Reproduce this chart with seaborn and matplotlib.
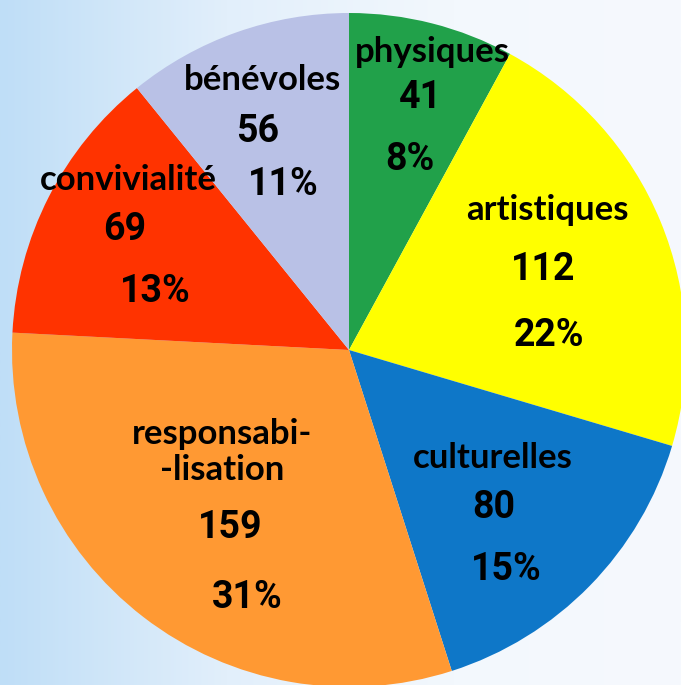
import numpy as np
import seaborn as sns
import matplotlib.pyplot as plt
from matplotlib.colors import LinearSegmentedColormap

# slice data, clockwise from the top
categories = ['physiques', 'artistiques', 'culturelles', 'responsabi-\n-lisation', 'convivialité', 'bénévoles']
counts = [41, 112, 80, 159, 69, 56]
colors = ['#21a14a', '#ffff00', '#0e77c8', '#ff9933', '#ff3300', '#b9c1e6']

# label positions in pixels (name, count, percent) - layout only
name_pos = [(432, 52), (547, 210), (493, 458), (222, 452), (128, 180), (262, 80)]
count_pos = [(420, 98), (543, 270), (494, 508), (230, 527), (125, 230), (258, 132)]
pct_pos = [(410, 160), (549, 336), (506, 570), (247, 598), (155, 292), (283, 184)]

W, H = 681, 685
sns.set_theme(style='white')
fig = plt.figure(figsize=(W / 100, H / 100), dpi=100)

# background gradient
bg = fig.add_axes([0, 0, 1, 1])
cmap = LinearSegmentedColormap.from_list('bg', ['#bfdef7', '#e2effb', '#f3f8fd', '#f6f9fe'])
grad = np.linspace(0, 1, 256).reshape(1, -1)
bg.imshow(grad, aspect='auto', cmap=cmap, extent=[0, 1, 0, 1])
bg.axis('off')

cx, cy, r = 349, 350, 337
ax = fig.add_axes([(cx - r) / W, (H - cy - r) / H, 2 * r / W, 2 * r / H])
ax.pie(counts, colors=colors, startangle=90, counterclock=False,
       wedgeprops=dict(linewidth=0))
ax.set_xlim(-1, 1)
ax.set_ylim(-1, 1)
ax.axis('off')

total = sum(counts)
for i, name in enumerate(categories):
    pct = round(100 * counts[i] / total)
    x, y = name_pos[i]
    fig.text(x / W, 1 - y / H, name, ha='center', va='center', fontsize=25,
             fontweight='bold', family='Lato', linespacing=1.15, color='black')
    x, y = count_pos[i]
    fig.text(x / W, 1 - y / H, str(counts[i]), ha='center', va='center', fontsize=27,
             fontweight='bold', family='Roboto', color='black')
    x, y = pct_pos[i]
    fig.text(x / W, 1 - y / H, f'{pct}%', ha='center', va='center', fontsize=27,
             fontweight='bold', family='Roboto', color='black')

fig.savefig('out.png', dpi=100)
